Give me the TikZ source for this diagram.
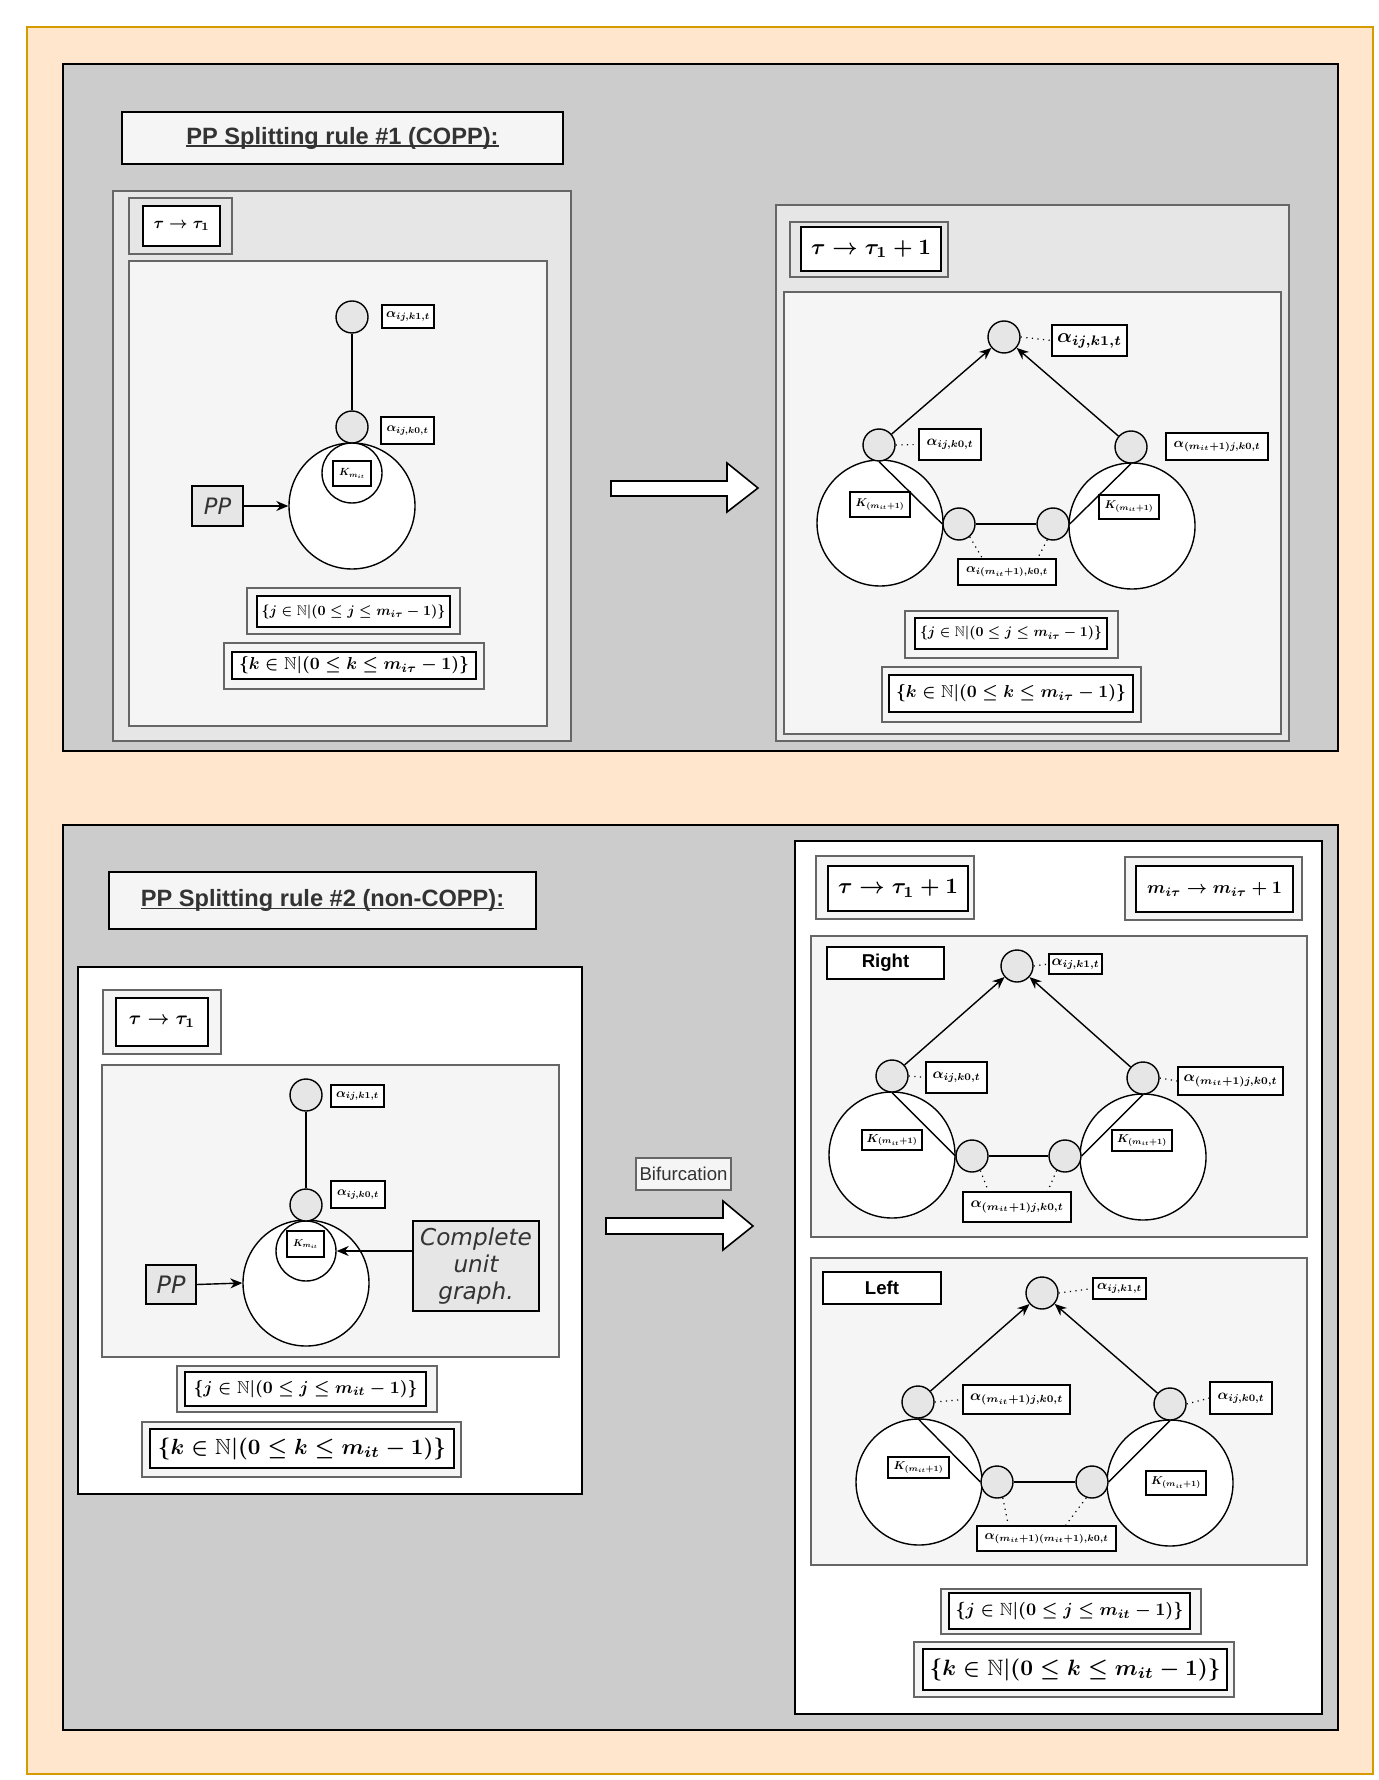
\documentclass[tikz,border=0pt]{standalone}
\usepackage{fontspec}
\usepackage{graphicx}
\usepackage{amsmath,amssymb}
\setsansfont{Liberation Sans}
\newfontfamily\djv{DejaVu Sans}
\usetikzlibrary{shapes.geometric,arrows.meta,calc}
\definecolor{orf}{HTML}{FFE6CC}
\definecolor{ord}{HTML}{D79B00}
\definecolor{gpan}{HTML}{CCCCCC}
\definecolor{gE}{HTML}{E6E6E6}
\definecolor{gF}{HTML}{F5F5F5}
\definecolor{g6}{HTML}{666666}
\definecolor{g3}{HTML}{333333}
\newcommand{\bx}[7]{\node[#1, minimum width={(#5-#3)*0.5pt}, minimum height={(#6-#4)*0.5pt}, inner sep=0pt] (#2) at ({(#3+#5)/2},{(#4+#6)/2}) {#7};}
\newcommand{\mth}[2]{\resizebox{#1pt}{!}{\boldmath$#2$}}
\newcommand{\myul}[1]{\leavevmode\setbox0\hbox{#1}\rlap{\rule[-1.4pt]{\wd0}{0.8pt}}\box0}
\tikzset{
  graypanel/.style={rectangle, fill=gpan, draw=black, line width=1pt},
  outerE/.style={rectangle, fill=gE, draw=g6, line width=0.7pt},
  innerF/.style={rectangle, fill=gF, draw=g6, line width=0.7pt},
  whitepanel/.style={rectangle, fill=white, draw=black, line width=0.8pt},
  frameE/.style={rectangle, fill=gE, draw=g6, line width=0.7pt},
  frameF/.style={rectangle, fill=gF, draw=g6, line width=0.7pt},
  framei/.style={rectangle, fill=white, draw=black, line width=0.9pt},
  lblbox/.style={rectangle, fill=white, draw=black, line width=0.6pt},
  titlebox/.style={rectangle, fill=gF, draw=black, line width=1.4pt, text=g3, font=\sffamily\bfseries\fontsize{11.8pt}{14pt}\selectfont},
  ppbox/.style={rectangle, fill=gE, draw=black, line width=0.8pt, text=g3},
  bifbox/.style={rectangle, fill=gF, draw=g6, line width=0.6pt, text=g3, font=\sffamily\fontsize{9.3pt}{11pt}\selectfont},
  sidebox/.style={rectangle, fill=white, draw=black, line width=0.7pt, font=\sffamily\bfseries\fontsize{9.3pt}{11pt}\selectfont},
  vnode/.style={circle, fill=gE, draw=black, line width=0.7pt, minimum size=16pt, inner sep=0pt},
  bigc/.style={circle, fill=white, draw=black, line width=0.7pt, inner sep=0pt},
  edge/.style={draw=black, line width=0.7pt},
  arr/.style={draw=black, line width=0.7pt, -{Stealth[length=6pt,width=5pt]}},
  dotl/.style={draw=black, line width=0.6pt, dash pattern=on 0.6pt off 2.2pt},
  blockarrow/.style={fill=white, draw=black, line width=0.8pt, line join=miter}
}
\begin{document}
\begin{tikzpicture}[x=0.5pt,y=-0.5pt]
\useasboundingbox (0,0) rectangle (1379,1780);
\fill[white] (0,0) rectangle (1379,1780);
\bx{rectangle, fill=orf, draw=ord, line width=0.7pt}{bg}{27}{27}{1373}{1774}{}

% ================= TOP PANEL =================
\bx{graypanel}{P1}{63}{64}{1338}{751}{}
\bx{titlebox}{T1}{122}{112}{563}{164}{\myul{PP Splitting rule \#1 (COPP):}}

% left part
\bx{outerE}{A1box}{113}{191}{571}{741}{}
\bx{frameE}{A1tauo}{129}{198}{232}{254}{}
\bx{framei}{A1tau}{143}{206}{220}{246}{\mth{28}{\tau\rightarrow\tau_1}}
\bx{innerF}{A1in}{129}{261}{547}{726}{}
\node[bigc, minimum size=63pt] (A1big) at (352,506) {};
\node[bigc, minimum size=30pt] (A1small) at (352,473) {};
\bx{lblbox}{A1K}{333}{461}{371}{486}{\mth{13}{K_{m_{it}}}}
\node[vnode] (A1t) at (352,317) {};
\node[vnode] (A1k) at (352,427) {};
\draw[edge] (A1t) -- (A1k);
\bx{lblbox}{A1lt}{382}{305}{434}{328}{\mth{22}{\alpha_{ij,k1,t}}}
\bx{lblbox}{A1lk}{381}{417}{434}{444}{\mth{21}{\alpha_{ij,k0,t}}}
\bx{ppbox}{A1pp}{192}{486}{243}{526}{\djv\itshape\fontsize{11.3pt}{13pt}\selectfont PP}
\draw[arr] (A1pp.east) -- (A1big.west);
\bx{frameF}{A1jo}{247}{588}{460}{634}{}
\bx{framei}{A1j}{257}{596}{450}{627}{\mth{92}{\{j\in\mathbb{N}|(0\le j\le m_{i\tau}-1)\}}}
\bx{frameF}{A1ko}{224}{643}{484}{689}{}
\bx{framei}{A1kset}{232}{652}{476}{679}{\mth{115}{\{k\in\mathbb{N}|(0\le k\le m_{i\tau}-1)\}}}

% block arrow 1
\draw[blockarrow] (611,481) -- (727,481) -- (727,463) -- (758,488) -- (727,512) -- (727,496) -- (611,496) -- cycle;

% right part
\bx{outerE}{B1box}{776}{205}{1289}{741}{}
\bx{frameE}{B1tauo}{790}{222}{948}{277}{}
\bx{framei}{B1tau}{801}{227}{941}{271}{\mth{60}{\tau\rightarrow\tau_1+1}}
\bx{innerF}{B1in}{784}{292}{1281}{734}{}
\node[bigc, minimum size=63pt] (B1bigl) at (880,523) {};
\node[bigc, minimum size=63pt] (B1bigr) at (1132,526) {};
\node[vnode] (B1t) at (1004,337) {};
\node[vnode] (B1l) at (879,445) {};
\node[vnode] (B1r) at (1131,447) {};
\node[vnode] (B1bl) at (959,524) {};
\node[vnode] (B1br) at (1053,524) {};
\draw[edge] (B1l.south) -- (B1bl.west);
\draw[edge] (B1r.south) -- (B1br.east);
\draw[edge] (B1bl) -- (B1br);
\draw[arr] (B1l) -- (B1t);
\draw[arr] (B1r) -- (B1t);
\bx{lblbox}{B1lt}{1052}{325}{1127}{356}{\mth{32.5}{\alpha_{ij,k1,t}}}
\bx{lblbox}{B1ll}{919}{429}{981}{460}{\mth{23.5}{\alpha_{ij,k0,t}}}
\bx{lblbox}{B1lr}{1166}{433}{1268}{460}{\mth{43.5}{\alpha_{(m_{it}+1)j,k0,t}}}
\bx{lblbox}{B1Kl}{850}{492}{910}{517}{\mth{24.5}{K_{(m_{it}+1)}}}
\bx{lblbox}{B1Kr}{1099}{495}{1159}{519}{\mth{24.5}{K_{(m_{it}+1)}}}
\bx{lblbox}{B1lb}{958}{559}{1056}{585}{\mth{41}{\alpha_{i(m_{it}+1),k0,t}}}
\draw[dotl] (B1t.east) -- (B1lt.west);
\draw[dotl] (B1l.east) -- (B1ll.west);
\draw[dotl] (B1bl.-50) -- ([xshift=12.5pt]B1lb.north west);
\draw[dotl] (B1br.-110) -- ([xshift=-9.5pt]B1lb.north east);
\bx{frameF}{B1jo}{905}{611}{1118}{658}{}
\bx{framei}{B1j}{915}{618}{1107}{649}{\mth{91}{\{j\in\mathbb{N}|(0\le j\le m_{i\tau}-1)\}}}
\bx{frameF}{B1ko}{882}{667}{1141}{722}{}
\bx{framei}{B1kset}{889}{675}{1133}{712}{\mth{115}{\{k\in\mathbb{N}|(0\le k\le m_{i\tau}-1)\}}}

% ================= BOTTOM PANEL =================
\bx{graypanel}{P2}{63}{825}{1338}{1730}{}
\bx{titlebox}{T2}{109}{872}{536}{929}{\myul{PP Splitting rule \#2 (non-COPP):}}

% left part
\bx{whitepanel}{C1box}{78}{967}{582}{1494}{}
\bx{frameF}{C1tauo}{103}{990}{221}{1054}{}
\bx{framei}{C1tau}{116}{998}{208}{1046}{\mth{33}{\tau\rightarrow\tau_1}}
\bx{innerF}{C1in}{102}{1065}{559}{1357}{}
\node[bigc, minimum size=63pt] (C1big) at (306,1283) {};
\node[bigc, minimum size=30pt] (C1small) at (306,1251) {};
\bx{lblbox}{C1K}{287}{1231}{324}{1257}{\mth{12.5}{K_{m_{it}}}}
\node[vnode] (C1t) at (306,1095) {};
\node[vnode] (C1k) at (306,1205) {};
\draw[edge] (C1t) -- (C1k);
\bx{lblbox}{C1lt}{331}{1085}{384}{1107}{\mth{21.5}{\alpha_{ij,k1,t}}}
\bx{lblbox}{C1lk}{331}{1181}{385}{1208}{\mth{21}{\alpha_{ij,k0,t}}}
\bx{ppbox}{C1pp}{146}{1265}{196}{1304}{\djv\itshape\fontsize{12pt}{14pt}\selectfont PP}
\draw[arr] (C1pp.east) -- (C1big.west);
\bx{ppbox, align=center, font={\djv\itshape\fontsize{11.6pt}{13.6pt}\selectfont}}{C1cug}{413}{1221}{539}{1311}{Complete\\unit\\graph.}
\draw[arr] (C1small.east -| C1cug.west) -- (C1small.east);
\bx{frameF}{C1jo}{177}{1366}{437}{1412}{}
\bx{framei}{C1j}{185}{1372}{426}{1406}{\mth{112}{\{j\in\mathbb{N}|(0\le j\le m_{it}-1)\}}}
\bx{frameF}{C1ko}{142}{1422}{461}{1477}{}
\bx{framei}{C1kset}{150}{1429}{454}{1468}{\mth{144}{\{k\in\mathbb{N}|(0\le k\le m_{it}-1)\}}}

% bifurcation + block arrow 2
\bx{bifbox}{bif}{636}{1158}{731}{1190}{Bifurcation}
\draw[blockarrow] (606,1218) -- (723,1218) -- (723,1201) -- (753,1226) -- (723,1250) -- (723,1234) -- (606,1234) -- cycle;

% right part
\bx{whitepanel}{D0box}{795}{841}{1322}{1714}{}
\bx{frameF}{D0tauo}{816}{856}{974}{919}{}
\bx{framei}{D0tau}{828}{866}{968}{911}{\mth{60}{\tau\rightarrow\tau_1+1}}
\bx{frameF}{D0mo}{1125}{857}{1302}{920}{}
\bx{framei}{D0m}{1136}{866}{1293}{912}{\mth{67.5}{m_{i\tau}\rightarrow m_{i\tau}+1}}

% Right sub-panel
\bx{innerF}{D1in}{811}{936}{1307}{1237}{}
\bx{sidebox}{D1name}{827}{947}{944}{979}{Right}
\node[bigc, minimum size=63pt] (D1bigl) at (892,1155) {};
\node[bigc, minimum size=63pt] (D1bigr) at (1143,1157) {};
\node[vnode] (D1t) at (1017,966) {};
\node[vnode] (D1l) at (892,1076) {};
\node[vnode] (D1r) at (1143,1078) {};
\node[vnode] (D1bl) at (972,1156) {};
\node[vnode] (D1br) at (1065,1156) {};
\draw[edge] (D1l.south) -- (D1bl.west);
\draw[edge] (D1r.south) -- (D1br.east);
\draw[edge] (D1bl) -- (D1br);
\draw[arr] (D1l) -- (D1t);
\draw[arr] (D1r) -- (D1t);
\bx{lblbox}{D1lt}{1049}{954}{1102}{974}{\mth{24}{\alpha_{ij,k1,t}}}
\bx{lblbox}{D1ll}{926}{1062}{987}{1093}{\mth{24}{\alpha_{ij,k0,t}}}
\bx{lblbox}{D1lr}{1178}{1067}{1283}{1095}{\mth{47}{\alpha_{(m_{it}+1)j,k0,t}}}
\bx{lblbox}{D1Kl}{862}{1130}{922}{1150}{\mth{25.5}{K_{(m_{it}+1)}}}
\bx{lblbox}{D1Kr}{1112}{1130}{1172}{1151}{\mth{25}{K_{(m_{it}+1)}}}
\bx{lblbox}{D1lb}{963}{1192}{1071}{1222}{\mth{46.5}{\alpha_{(m_{it}+1)j,k0,t}}}
\draw[dotl] (D1t.east) -- (D1lt.west);
\draw[dotl] (D1l.east) -- (D1ll.west);
\draw[dotl] (D1r.east) -- (D1lr.west);
\draw[dotl] (D1bl.-60) -- ([xshift=13pt]D1lb.north west);
\draw[dotl] (D1br.-120) -- ([xshift=-12pt]D1lb.north east);

% Left sub-panel
\bx{innerF}{D2in}{811}{1258}{1307}{1565}{}
\bx{sidebox}{D2name}{823}{1272}{941}{1304}{Left}
\node[bigc, minimum size=63pt] (D2bigl) at (919,1482) {};
\node[bigc, minimum size=63pt] (D2bigr) at (1170,1483) {};
\node[vnode] (D2t) at (1042,1293) {};
\node[vnode] (D2l) at (918,1402) {};
\node[vnode] (D2r) at (1170,1404) {};
\node[vnode] (D2bl) at (997,1482) {};
\node[vnode] (D2br) at (1092,1482) {};
\draw[edge] (D2l.south) -- (D2bl.west);
\draw[edge] (D2r.south) -- (D2br.east);
\draw[edge] (D2bl) -- (D2br);
\draw[arr] (D2l) -- (D2t);
\draw[arr] (D2r) -- (D2t);
\bx{lblbox}{D2lt}{1093}{1278}{1146}{1299}{\mth{22.5}{\alpha_{ij,k1,t}}}
\bx{lblbox}{D2ll}{963}{1385}{1070}{1414}{\mth{46.5}{\alpha_{(m_{it}+1)j,k0,t}}}
\bx{lblbox}{D2lr}{1210}{1382}{1272}{1414}{\mth{23.5}{\alpha_{ij,k0,t}}}
\bx{lblbox}{D2Kl}{888}{1457}{949}{1478}{\mth{25}{K_{(m_{it}+1)}}}
\bx{lblbox}{D2Kr}{1146}{1471}{1206}{1495}{\mth{25}{K_{(m_{it}+1)}}}
\bx{lblbox}{D2lb}{977}{1526}{1116}{1551}{\mth{62}{\alpha_{(m_{it}+1)(m_{it}+1),k0,t}}}
\draw[dotl] (D2t.east) -- (D2lt.west);
\draw[dotl] (D2l.east) -- (D2ll.west);
\draw[dotl] (D2r.east) -- (D2lr.west);
\draw[dotl] (D2bl.-70) -- ([xshift=16pt]D2lb.north west);
\draw[dotl] (D2br.-110) -- ([xshift=-25.5pt]D2lb.north east);

\bx{frameF}{D3jo}{941}{1589}{1201}{1634}{}
\bx{framei}{D3j}{949}{1593}{1190}{1629}{\mth{114}{\{j\in\mathbb{N}|(0\le j\le m_{it}-1)\}}}
\bx{frameF}{D3ko}{914}{1642}{1234}{1697}{}
\bx{framei}{D3kset}{923}{1649}{1227}{1690}{\mth{145.5}{\{k\in\mathbb{N}|(0\le k\le m_{it}-1)\}}}
\end{tikzpicture}
\end{document}
